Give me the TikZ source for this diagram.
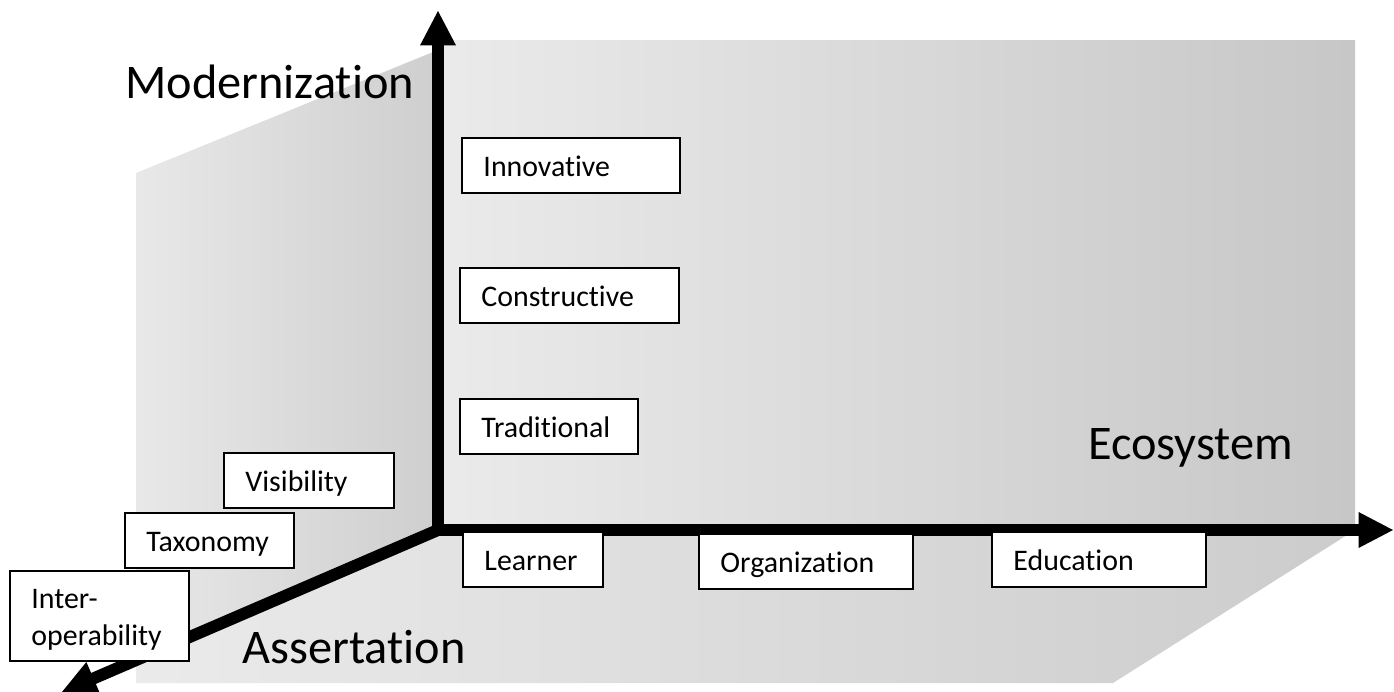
\documentclass[tikz,border=0pt]{standalone}
\usepackage{fontspec}
\setmainfont{Carlito}[Ligatures=NoCommon]
\usetikzlibrary{arrows.meta}

\begin{document}
\begin{tikzpicture}[x=0.2mm,y=-0.2mm,
  axisline/.style={line width=6.8pt,line cap=rect,
    -{Triangle[width=20.4pt,length=19.5pt,line width=0pt]}},
  tag/.style={draw,fill=white,line width=1.1pt,anchor=north west,align=left,
    inner xsep=4.3mm,inner ysep=0pt,minimum height=11mm,
    text height=5.3mm,text depth=0.9mm,
    font=\fontsize{17pt}{21pt}\selectfont},
  dimlabel/.style={anchor=base west,inner sep=0pt,
    font=\fontsize{27.5pt}{33pt}\selectfont}]
  \useasboundingbox (0,0) rectangle (1394,692);
  % 三个面：后墙、侧墙、地面
  \shade[left color=black!8, right color=black!22] (438,40) rectangle (1355,530);
  \shade[left color=black!9, right color=black!19]
    (136,173) -- (438,50) -- (438,530) -- (136,660) -- cycle;
  \shade[left color=black!8, right color=black!20]
    (438,530) -- (1355,530) -- (1113,683) -- (136,683) -- (136,660) -- cycle;
  % 坐标轴
  \coordinate (O) at (438,530);
  \coordinate (ytop) at (438,11);
  \coordinate (xend) at (1393,530);
  \coordinate (zend) at (62,692);
  \draw[axisline] (O) -- (ytop);
  \draw[axisline] (O) -- (xend);
  \draw[axisline] (O) -- (zend);
  % 轴名
  \node[dimlabel] (modern) at (125,98) {Modernization};
  \node[dimlabel] (ecosys) at (1088,459) {Ecosystem};
  \node[dimlabel] (assert) at (242,663) {Assertation};
  % 竖轴上的层级
  \node[tag,text width=35mm] (innov) at (461,137) {Innovative};
  \node[tag,text width=35.2mm] (constr) at (459,267) {Constructive};
  \node[tag,text width=27mm] (trad) at (459,398) {Traditional};
  % 横轴上的层级
  \node[tag,text width=19.4mm] (learner) at (462,531) {Learner};
  \node[tag,text width=34.2mm] (org) at (698,533) {Organization};
  \node[tag,text width=34.2mm] (edu) at (991,531) {Education};
  % 斜轴上的层级
  \node[tag,text width=25.4mm] (visib) at (223,452) {Visibility};
  \node[tag,text width=25.2mm] (taxon) at (124,512) {Taxonomy};
  \node[tag,text width=27.2mm,minimum height=18mm,text depth=8.3mm]
    (interop) at (9,570) {Inter-\\operability};
\end{tikzpicture}
\end{document}
